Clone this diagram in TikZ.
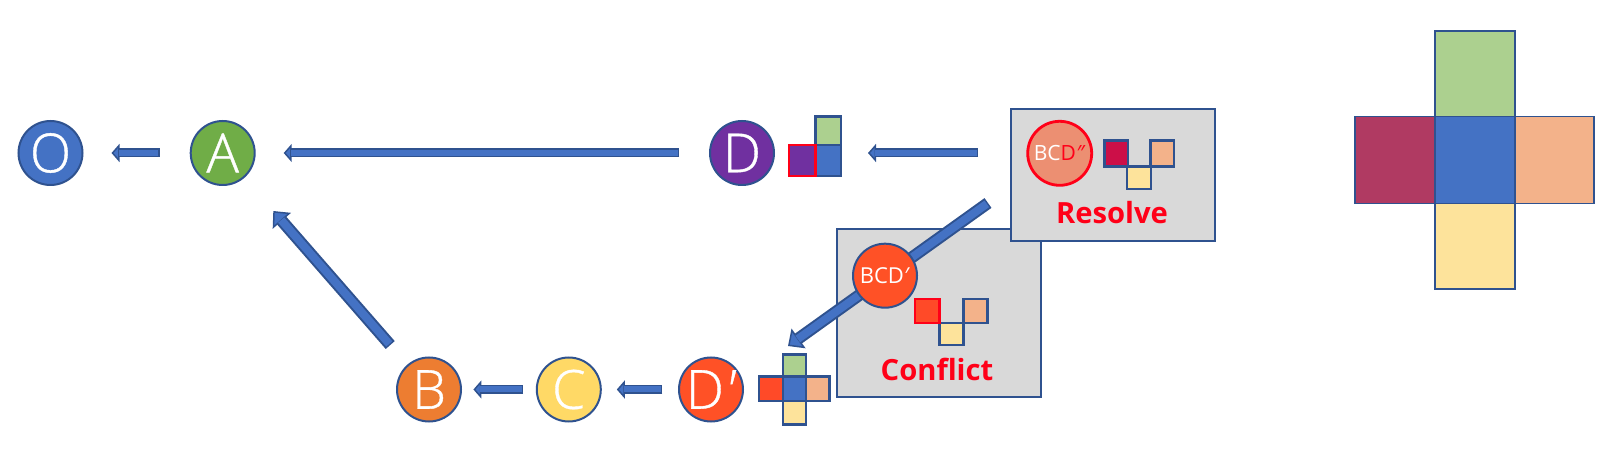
\documentclass[tikz,border=0pt]{standalone}
\usepackage{fontspec}
\setmainfont{Open Sans}
\newfontfamily\lightfont[FakeBold=0.7]{Open Sans Light}
\usetikzlibrary{arrows.meta}
\definecolor{edgeblue}{HTML}{2F528F}
\definecolor{fillblue}{HTML}{4472C4}
\definecolor{cgreen}{HTML}{70AD47}
\definecolor{corange}{HTML}{ED7D31}
\definecolor{cyellow}{HTML}{FFD966}
\definecolor{cpurple}{HTML}{7030A0}
\definecolor{cdprime}{HTML}{FF5126}
\definecolor{csalmon}{HTML}{EC8F72}
\definecolor{cboxgray}{HTML}{D9D9D9}
\definecolor{sgreen}{HTML}{ACD08F}
\definecolor{sorange}{HTML}{F3B28A}
\definecolor{syellow}{HTML}{FDE39B}
\definecolor{scrimson}{HTML}{B03A62}
\definecolor{sdeep}{HTML}{CC0F48}
\definecolor{sred}{HTML}{FF4A28}
\definecolor{tred}{HTML}{FF0018}
\tikzset{
  x=0.5pt,y=-0.5pt,
  circ/.style={circle,draw=edgeblue,line width=1pt,minimum size=32pt,inner sep=0pt,text=white},
  bigletter/.style={font=\fontsize{27}{27}\selectfont\lightfont},
  smallletter/.style={font=\fontsize{11}{11}\selectfont},
  panel/.style={rectangle,draw=edgeblue,line width=1pt,fill=cboxgray,inner sep=0pt},
  cell/.style={draw=edgeblue,line width=1.2pt},
  redcell/.style={draw=tred,line width=1.2pt},
  bigcell/.style={draw=edgeblue,line width=0.75pt},
  caption/.style={text=tred,font=\fontsize{14.6}{14.6}\selectfont\bfseries},
  blockarrow/.style n args={6}{% tail gap, tip gap, tip length, tip width, shaft, inner shaft
    draw=edgeblue,line width=#5,
    shorten <=#1,shorten >=#2,
    -{Triangle[length=#3,width=#4,fill=fillblue,line width=0.75pt]},
    postaction={draw=fillblue,line width=#6,-,shorten <=#1+0.75pt,shorten >=#2+#3-0.5pt}
  },
}
\begin{document}
\begin{tikzpicture}
\useasboundingbox (0,0) rectangle (1618,454);
% circles on the two rows
\node[circ,bigletter,fill=fillblue] (O) at (50.5,153) {O};
\node[circ,bigletter,fill=cgreen] (A) at (222.7,153) {A};
\node[circ,bigletter,fill=cpurple] (D) at (742,153) {D};
\node[circ,bigletter,fill=corange] (B) at (429,389.5) {B};
\node[circ,bigletter,fill=cyellow] (C) at (568.8,389.5) {C};
\node[circ,bigletter,fill=cdprime] (Dp) at (711,389.5) {D\textit{′}};
% D squares
\draw[cell,fill=sgreen] (815.3,116.7) rectangle (841,145);
\draw[cell,fill=fillblue] (815.3,145) rectangle (841,176);
\draw[redcell,fill=cpurple] (788.7,145) rectangle (815.3,176);
\coordinate (Dsq) at (841,153);
% D' squares
\draw[cell,fill=sgreen] (782.7,354.7) rectangle (805.7,376.7);
\draw[cell,fill=syellow] (782.7,401.3) rectangle (805.7,424.6);
\draw[cell,fill=sred] (759,376.7) rectangle (782.7,401.3);
\draw[cell,fill=sorange] (805.7,376.7) rectangle (829.3,401.3);
\draw[cell,fill=fillblue] (782.7,376.7) rectangle (805.7,401.3);
% Conflict panel
\node[panel,minimum width=102pt,minimum height=83.85pt] (Conflict) at (939,312.85) {};
\draw[cell,fill=sorange] (963.3,299) rectangle (987.3,323.3);
\draw[cell,fill=syellow] (939.3,323.3) rectangle (963.3,345);
\draw[redcell,fill=sred] (915,299) rectangle (939.3,323.3);
\node[caption] (ConflictText) at (937,369) {Conflict};
% Resolve panel
\node[panel,minimum width=102pt,minimum height=65.85pt] (Resolve) at (1113,174.85) {};
\node[circ,smallletter,fill=csalmon,draw=tred,line width=1.4pt,font=\fontsize{10.5}{10.5}\selectfont] (BCDpp) at (1059.7,153.3) {BC\textcolor{tred}{D\textit{″}}};
\draw[cell,fill=syellow] (1127,166.7) rectangle (1151,189);
\draw[cell,fill=sdeep] (1104.3,140.7) rectangle (1127.7,166.7);
\draw[cell,fill=sorange] (1150.3,140.7) rectangle (1173.7,166.7);
\node[caption] (ResolveText) at (1112,212.7) {Resolve};
% arrows
\coordinate (diagTail) at (988,203);
\coordinate (diagTip) at (788,346);
\draw[blockarrow={15pt}{14pt}{4pt}{9pt}{4.5pt}{3pt}] (A) -- (O);
\draw[blockarrow={15pt}{14pt}{4pt}{9pt}{4.5pt}{3pt}] (D) -- (A);
\draw[blockarrow={16pt}{13.5pt}{4pt}{9pt}{4.5pt}{3pt}] (Resolve.west |- D.east) -- (Dsq);
\draw[blockarrow={13pt}{22pt}{6.5pt}{12pt}{6pt}{4pt}] (B) -- (A);
\draw[blockarrow={6.4pt}{5.7pt}{4pt}{9pt}{4.5pt}{3pt}] (C) -- (B);
\draw[blockarrow={7.8pt}{7.5pt}{4pt}{9pt}{4.5pt}{3pt}] (Dp) -- (C);
\draw[blockarrow={0pt}{0pt}{6.5pt}{12pt}{6pt}{4pt}] (diagTail) -- (diagTip);
% BCD' sits over the diagonal arrow
\node[circ,smallletter,fill=cdprime] (BCDp) at (885,275.7) {BCD\textit{′}};
% reference cross
\draw[bigcell,fill=sgreen] (1435,31) rectangle (1515,116.5);
\draw[bigcell,fill=syellow] (1435,203.5) rectangle (1515,289);
\draw[bigcell,fill=scrimson] (1355,116.5) rectangle (1435,203.5);
\draw[bigcell,fill=sorange] (1515,116.5) rectangle (1594,203.5);
\draw[bigcell,fill=fillblue] (1435,116.5) rectangle (1515,203.5);
\end{tikzpicture}
\end{document}
